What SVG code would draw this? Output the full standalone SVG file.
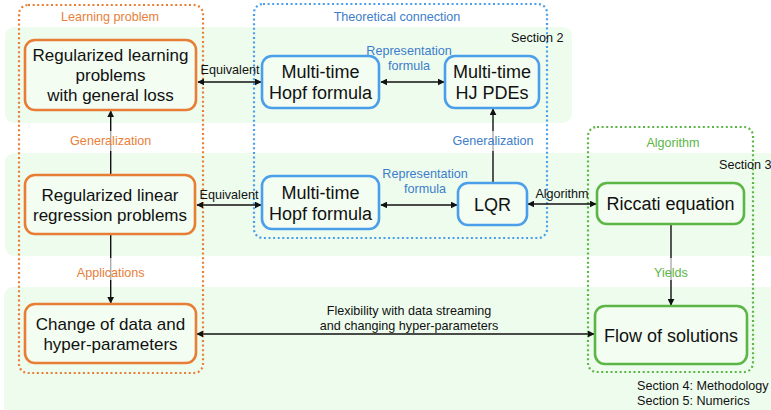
<svg xmlns="http://www.w3.org/2000/svg" width="771" height="410" viewBox="0 0 771 410">
<defs>
<style>
.band{fill:#EEFCEE;stroke:none}
.cont{fill:none;stroke-width:2.2;stroke-dasharray:2 2.6;stroke-linecap:butt}
.node{stroke-width:2.6;fill:#F3FDF2}
.or{stroke:#E87D35}
.bl{stroke:#4B9FEA}
.gr{stroke:#5BB646}
.nt{font-family:"Liberation Sans",Arial,sans-serif;font-size:17px;fill:#111;text-anchor:middle}
.nt18{font-family:"Liberation Sans",Arial,sans-serif;font-size:18px;fill:#111;text-anchor:middle}
.sm{font-family:"Liberation Sans",Arial,sans-serif;font-size:12.6px;fill:#111;text-anchor:middle}
.smo{fill:#E8803A}
.smb{fill:#3D7DCA}
.smg{fill:#5BB646}
.ln{stroke:#111;stroke-width:1.4;fill:none}
.lbg{fill:#fff;opacity:0.65}
</style>
<marker id="ah" viewBox="0 0 10 10" refX="9" refY="5" markerWidth="7" markerHeight="7" orient="auto-start-reverse" markerUnits="userSpaceOnUse">
<path d="M0,0 L10,5 L0,10 z" fill="#111"/>
</marker>
</defs>

<g id="bands">
<rect class="band" x="5" y="27" width="567" height="96" rx="9"/>
<rect class="band" x="5" y="153" width="780" height="103" rx="9"/>
<rect class="band" x="4" y="287" width="780" height="140" rx="9"/>
</g>

<g id="containers">
<g id="learning-problem">
<rect class="cont or" x="19" y="5" width="184" height="368" rx="9"/>
<text class="sm smo" x="110" y="21">Learning problem</text>
</g>
<g id="theoretical-connection">
<rect class="cont bl" x="254" y="4" width="293" height="234" rx="9"/>
<text class="sm smb" x="397" y="21">Theoretical connection</text>
</g>
<g id="algorithm">
<rect class="cont gr" x="588" y="127" width="165" height="245" rx="9"/>
<text class="sm smg" x="673" y="147">Algorithm</text>
</g>
</g>

<g id="connectors">
<line class="ln" x1="110.7" y1="175" x2="110.7" y2="111" marker-end="url(#ah)"/>
<line class="ln" x1="110.7" y1="234" x2="110.7" y2="303" marker-end="url(#ah)"/>
<line class="ln" x1="493" y1="183" x2="493" y2="109" marker-end="url(#ah)"/>
<line class="ln" x1="671" y1="224" x2="671" y2="305" marker-end="url(#ah)"/>
<line class="ln" x1="198" y1="82" x2="261" y2="82" marker-start="url(#ah)" marker-end="url(#ah)"/>
<line class="ln" x1="381" y1="82" x2="444" y2="82" marker-start="url(#ah)" marker-end="url(#ah)"/>
<line class="ln" x1="197" y1="205" x2="261" y2="205" marker-start="url(#ah)" marker-end="url(#ah)"/>
<line class="ln" x1="381" y1="205" x2="457" y2="205" marker-start="url(#ah)" marker-end="url(#ah)"/>
<line class="ln" x1="528" y1="204" x2="596" y2="204" marker-start="url(#ah)" marker-end="url(#ah)"/>
<line class="ln" x1="197" y1="334" x2="594" y2="334" marker-start="url(#ah)" marker-end="url(#ah)"/>
<rect class="lbg" x="68" y="131" width="86" height="20"/>
<text class="sm smo" x="110.7" y="145">Generalization</text>
<rect class="lbg" x="74" y="258" width="74" height="22"/>
<text class="sm smo" x="110.7" y="277">Applications</text>
<rect class="lbg" x="451" y="131" width="84" height="20"/>
<text class="sm smb" x="493" y="145">Generalization</text>
<rect class="lbg" x="651" y="258" width="40" height="22"/>
<text class="sm smg" x="671" y="277">Yields</text>
<text class="sm" x="230" y="74">Equivalent</text>
<text class="sm" x="229" y="199">Equivalent</text>
<text class="sm smb" x="409" y="55">Representation</text>
<text class="sm smb" x="409" y="70">formula</text>
<text class="sm smb" x="425" y="178">Representation</text>
<text class="sm smb" x="425" y="193">formula</text>
<text class="sm" x="562" y="198">Algorithm</text>
<text class="sm" x="409" y="315">Flexibility with data streaming</text>
<text class="sm" x="409" y="330">and changing hyper-parameters</text>
</g>

<g id="section-labels">
<text class="sm" x="511" y="42" text-anchor="start" style="text-anchor:start">Section 2</text>
<text class="sm" x="719" y="169" style="text-anchor:start">Section 3</text>
<text class="sm" x="637" y="390" style="text-anchor:start">Section 4: Methodology</text>
<text class="sm" x="637" y="405" style="text-anchor:start">Section 5: Numerics</text>
</g>

<g id="n-learning">
<rect class="node or" x="25" y="40" width="171" height="70" rx="10"/>
<text class="nt" x="110.5" y="61">Regularized learning</text>
<text class="nt" x="110.5" y="81">problems</text>
<text class="nt" x="110.5" y="101">with general loss</text>
</g>
<g id="n-linear">
<rect class="node or" x="25" y="175" width="170" height="59" rx="10"/>
<text class="nt" x="110" y="201">Regularized linear</text>
<text class="nt" x="110" y="221">regression problems</text>
</g>
<g id="n-change">
<rect class="node or" x="25" y="304" width="171" height="59" rx="10"/>
<text class="nt" x="110.5" y="330">Change of data and</text>
<text class="nt" x="110.5" y="350">hyper-parameters</text>
</g>
<g id="n-hopf-top">
<rect class="node bl" x="262" y="56" width="117" height="52" rx="10"/>
<text class="nt18" x="320.5" y="78">Multi-time</text>
<text class="nt18" x="320.5" y="99">Hopf formula</text>
</g>
<g id="n-hj">
<rect class="node bl" x="445" y="56" width="94" height="52" rx="10"/>
<text class="nt18" x="492" y="78">Multi-time</text>
<text class="nt18" x="492" y="99">HJ PDEs</text>
</g>
<g id="n-hopf-bottom">
<rect class="node bl" x="262" y="176" width="117" height="53" rx="10"/>
<text class="nt18" x="320.5" y="198.5">Multi-time</text>
<text class="nt18" x="320.5" y="219.5">Hopf formula</text>
</g>
<g id="n-lqr">
<rect class="node bl" x="458" y="183" width="69" height="42" rx="10"/>
<text class="nt18" x="492.5" y="211">LQR</text>
</g>
<g id="n-riccati">
<rect class="node gr" x="597" y="183" width="147" height="41" rx="10"/>
<text class="nt18" x="670.5" y="210">Riccati equation</text>
</g>
<g id="n-flow">
<rect class="node gr" x="595" y="306" width="152" height="58" rx="10"/>
<text class="nt18" x="671" y="342">Flow of solutions</text>
</g>
</svg>
